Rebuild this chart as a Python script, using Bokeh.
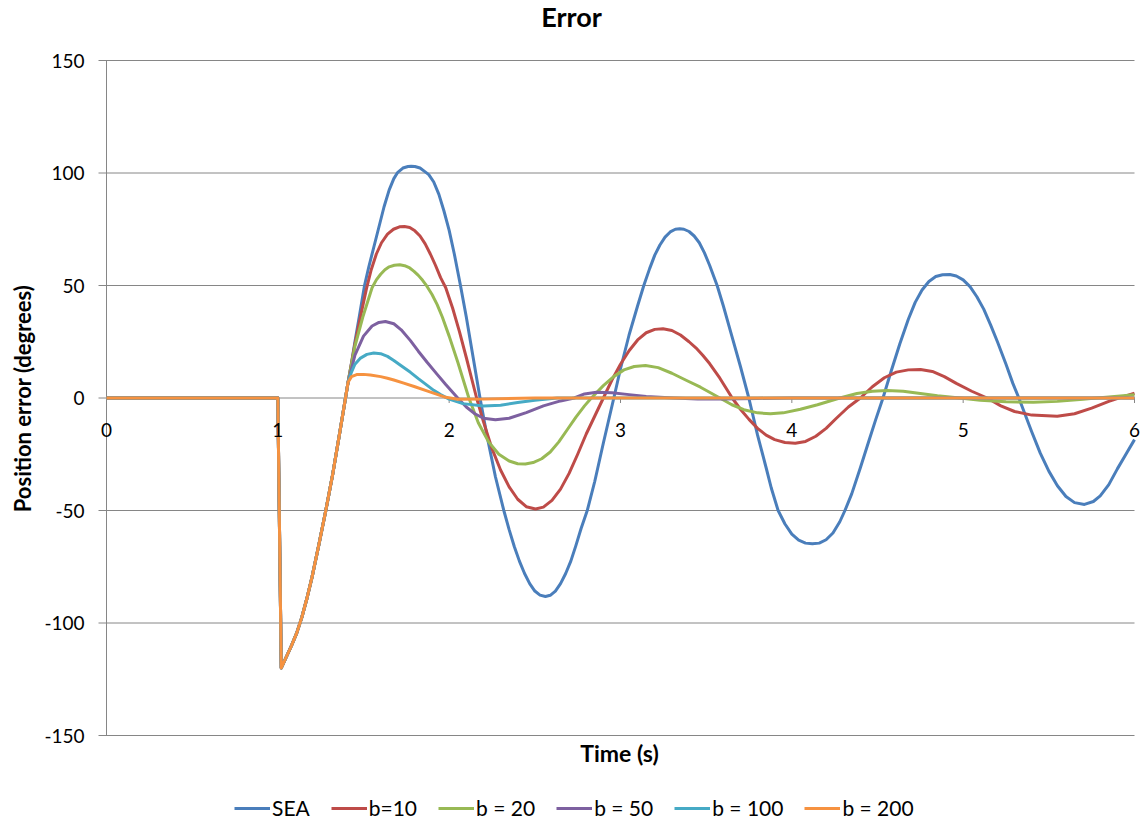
import math
from bokeh.plotting import figure
from bokeh.models import Range1d, Legend, LegendItem, Label
from bokeh.core.properties import value
from bokeh.embed import file_html
from bokeh.resources import INLINE

# ---------------- data ----------------
t_common = [0.0, 1.0, 1.02, 1.05, 1.08, 1.11, 1.14, 1.17, 1.2, 1.24, 1.28, 1.32, 1.36, 1.395, 1.41]
v_common = [0.0, 0.0, -120, -115, -110, -104.5, -97.5, -89, -79.5, -65, -50, -34, -16, 0.0, 7]

t_sea = [1.43, 1.45, 1.475, 1.506, 1.53, 1.56, 1.59, 1.62, 1.65, 1.677, 1.7, 1.73, 1.76, 1.778, 1.8,
         1.83, 1.86, 1.881, 1.91, 1.94, 1.97, 2.0, 2.03, 2.066, 2.1, 2.14, 2.18, 2.22, 2.27, 2.319,
         2.35, 2.38, 2.41, 2.44, 2.47, 2.5, 2.53, 2.562, 2.59, 2.62, 2.65, 2.68, 2.71, 2.74, 2.77,
         2.806, 2.85, 2.9, 2.961, 3.0, 3.05, 3.1, 3.136, 3.17, 3.2, 3.23, 3.26, 3.29, 3.32, 3.346,
         3.37, 3.4, 3.43, 3.46, 3.49, 3.52, 3.564, 3.6, 3.65, 3.7, 3.749, 3.8, 3.85, 3.88, 3.92,
         3.96, 4.0, 4.04, 4.08, 4.12, 4.16, 4.2, 4.24, 4.28, 4.31, 4.35, 4.4, 4.45, 4.49, 4.532,
         4.58, 4.63, 4.68, 4.72, 4.76, 4.8, 4.84, 4.88, 4.922, 4.96, 5.0, 5.04, 5.08, 5.12, 5.16,
         5.2, 5.25, 5.29, 5.325, 5.36, 5.4, 5.45, 5.5, 5.55, 5.6, 5.65, 5.708, 5.76, 5.8, 5.85,
         5.9, 5.95, 6.0]
v_sea = [15.5, 25, 36, 50, 58, 67, 76, 85, 92.5, 97.5, 100.3, 102.2, 102.9, 103, 102.9,
         102.2, 100.5, 99.3, 96, 90.5, 83, 74.5, 64, 50, 36, 18, 0, -16.5, -35, -50,
         -58.5, -66, -72.5, -78, -82.5, -85.8, -87.6, -88.2, -87.7, -85.8, -82.5, -78, -72.5, -65.5, -58,
         -50, -37, -20, 0, 13, 28, 41, 50, 57.5, 63.5, 68, 71.5, 73.8, 75, 75.2,
         75, 74, 72, 69, 64.5, 59, 50, 41, 27.5, 14, 0, -16.5, -31, -40, -50,
         -56, -60.5, -63.2, -64.5, -64.8, -64.5, -63, -60, -55, -50, -42.5, -31, -19, -9.5, 0,
         12, 24, 35, 42.5, 48, 51.8, 54, 54.8, 54.9, 54.2, 52.5, 49.5, 45, 39.5, 32.5,
         25, 15, 6.5, 0, -7, -15, -24.5, -32.5, -39, -43.8, -46.5, -47.3, -46, -43.5, -38.5,
         -31.5, -25, -18.5]

t_b10 = [1.45, 1.482, 1.517, 1.545, 1.575, 1.605, 1.64, 1.675, 1.71, 1.739, 1.77, 1.8, 1.83, 1.86, 1.89,
         1.92, 1.95, 1.98, 2.02, 2.06, 2.1, 2.13, 2.16, 2.2, 2.25, 2.3, 2.35, 2.4, 2.45, 2.504,
         2.55, 2.6, 2.65, 2.7, 2.75, 2.8, 2.85, 2.9, 2.95, 3.0, 3.05, 3.1, 3.15, 3.2, 3.248,
         3.3, 3.35, 3.4, 3.44, 3.48, 3.52, 3.58, 3.652, 3.7, 3.75, 3.8, 3.85, 3.9, 3.96, 4.02,
         4.08, 4.14, 4.2, 4.26, 4.33, 4.4, 4.47, 4.54, 4.61, 4.68, 4.751, 4.82, 4.89, 4.96, 5.05,
         5.14, 5.22, 5.3, 5.4, 5.549, 5.65, 5.75, 5.85, 5.93, 6.0]
v_b10 = [24, 36, 48.5, 57, 64, 69, 72.8, 75, 76.1, 76.2, 75.8, 74.3, 72, 68.5, 64,
         59, 53.5, 49, 40, 29.5, 18, 9, 0, -10.5, -22.5, -32, -39.5, -45, -48.3, -49.3,
         -48.5, -45.5, -40.5, -33.5, -25, -16, -8, 0, 8, 15, 21, 25.8, 29, 30.5, 30.8,
         30, 28, 25, 22.3, 19, 15.3, 8.8, 0, -5, -9.5, -13.5, -16.5, -18.5, -19.8, -20.1,
         -19.3, -17, -13.5, -9, -4, 0, 5, 9, 11.5, 12.5, 12.7, 11.8, 9.5, 6.5, 3,
         0, -3.5, -6, -7.6, -8.1, -7, -4.5, -1.5, 0.5, 2.1]

t_b20 = [1.45, 1.496, 1.55, 1.575, 1.6, 1.625, 1.65, 1.68, 1.712, 1.74, 1.77, 1.795, 1.82, 1.845, 1.87,
         1.9, 1.93, 1.96, 2.0, 2.05, 2.115, 2.17, 2.23, 2.29, 2.35, 2.4, 2.445, 2.49, 2.54, 2.59,
         2.64, 2.69, 2.74, 2.79, 2.83, 2.9, 2.96, 3.02, 3.08, 3.146, 3.22, 3.3, 3.38, 3.467, 3.58,
         3.65, 3.72, 3.8, 3.875, 3.95, 4.05, 4.15, 4.28, 4.38, 4.47, 4.556, 4.65, 4.75, 4.85, 4.98,
         5.1, 5.25, 5.41, 5.55, 5.7, 5.85, 6.0]
v_b20 = [23, 36, 49, 52.5, 55, 57, 58.3, 59, 59.2, 58.8, 57.8, 56.3, 54.5, 52.3, 49.7,
         46, 41.5, 36, 27.5, 16, 0, -11, -19.5, -25, -28, -29.2, -29.3, -28.7, -27, -24,
         -19.5, -14, -8.5, -3.5, 0, 5.5, 9.5, 12.5, 14, 14.4, 13.5, 11, 8, 4.8, 0,
         -3, -5.2, -6.6, -7, -6.6, -5, -3, 0, 2, 3, 3.3, 3, 2, 1, 0,
         -1, -1.7, -1.9, -1.5, -0.6, 0.5, 1.5]

t_b50 = [1.45, 1.5, 1.55, 1.59, 1.628, 1.677, 1.72, 1.774, 1.82, 1.87, 1.93, 1.98, 2.05, 2.1, 2.15,
         2.2, 2.27, 2.35, 2.45, 2.55, 2.65, 2.73, 2.79, 2.86, 2.95, 3.05, 3.15, 3.31, 3.45, 3.6,
         3.8, 4.0, 6.0]
v_b50 = [19, 27.5, 32, 33.6, 34, 33, 30.3, 25.5, 20.8, 16, 10.5, 6, 0, -4, -7,
         -9, -9.7, -9, -6.5, -3.5, -1.3, 0, 1.8, 2.6, 2.3, 1.5, 0.7, 0, -0.4, -0.5,
         -0.2, 0, 0]

t_b100 = [1.43, 1.45, 1.48, 1.52, 1.56, 1.6, 1.64, 1.677, 1.72, 1.774, 1.82, 1.87, 1.91, 1.95, 2.0,
          2.08, 2.2, 2.3, 2.4, 2.5, 2.63, 6.0]
v_b100 = [11.5, 15, 17.6, 19.4, 20, 19.7, 18.5, 16.7, 14.3, 11.4, 8.6, 5.7, 3.4, 1.5, -0.5,
          -2.5, -3.6, -3.2, -2, -1, 0, 0]

t_b200 = [1.43, 1.46, 1.5, 1.54, 1.6, 1.64, 1.677, 1.735, 1.8, 1.87, 1.93, 1.98, 2.05, 2.2, 2.5,
          6.0]
v_b200 = [9.5, 10.4, 10.5, 10.2, 9.5, 8.8, 8.0, 6.6, 5.0, 3.2, 1.6, 0.3, -0.6, -0.5, 0,
          0]

series_names = ["SEA", "b=10", "b = 20", "b = 50", "b = 100", "b = 200"]
series_t = [t_sea, t_b10, t_b20, t_b50, t_b100, t_b200]
series_v = [v_sea, v_b10, v_b20, v_b50, v_b100, v_b200]
colors = ["#4A7EBB", "#BE4B48", "#98B954", "#7D60A0", "#46AAC5", "#F69240"]

x_ticks = [0, 1, 2, 3, 4, 5, 6]
x_tick_labels = ["0", "1", "2", "3", "4", "5", "6"]
y_ticks = [-150, -100, -50, 0, 50, 100, 150]
y_tick_labels = ["-150", "-100", "-50", "0", "50", "100", "150"]

title_text = "Error"
x_title = "Time (s)"
y_title = "Position error (degrees)"

# ---------------- layout (pixel geometry of the page) ----------------
FONT = "Lato"
GRID = "#868686"
W, H = 1143, 822
X0_PX, X6_PX = 106, 1134       # x = 0 and x = 6
YT_PX, YB_PX = 60, 735         # y = 150 and y = -150
px_x = (X6_PX - X0_PX) / (x_ticks[-1] - x_ticks[0])
px_y = (YB_PX - YT_PX) / (y_ticks[-1] - y_ticks[0])


def dx(px):
    return x_ticks[0] + (px - X0_PX) / px_x


def dy(py):
    return y_ticks[-1] - (py - YT_PX) / px_y


p = figure(width=W, height=H, output_backend="svg", toolbar_location=None,
           x_range=Range1d(dx(0), dx(W)), y_range=Range1d(dy(H), dy(0)),
           x_axis_location=None, y_axis_location=None,
           min_border_left=0, min_border_right=0, min_border_top=0, min_border_bottom=0)
p.outline_line_color = None
p.background_fill_color = "white"
p.border_fill_color = "white"
p.xgrid.grid_line_color = None
p.ygrid.grid_line_color = None

n_y = len(y_ticks)
# horizontal grid lines with their outward tick, and the vertical axis line
p.segment(x0=[dx(X0_PX - 8)] * n_y, x1=[x_ticks[-1]] * n_y, y0=y_ticks, y1=y_ticks,
          line_color=GRID, line_width=1)
p.segment(x0=[x_ticks[0]], x1=[x_ticks[0]], y0=[y_ticks[0]], y1=[y_ticks[-1]],
          line_color=GRID, line_width=1)
# x ticks on the zero line
p.ray(x=x_ticks, y=[0] * len(x_ticks), length=5, length_units="screen", angle=-math.pi / 2,
      line_color=GRID, line_width=1)

# series
items = []
for name, tt, vv, c in zip(series_names, series_t, series_v, colors):
    r = p.line(t_common + tt, v_common + vv, line_color=c, line_width=3, line_join="round")
    items.append(LegendItem(label=name, renderers=[r]))

# tick labels
p.text(x=x_ticks, y=[0] * len(x_ticks), text=x_tick_labels, text_align="center",
       text_baseline="middle", y_offset=32, text_font=value(FONT), text_font_size="19px",
       text_color="black")
p.text(x=[x_ticks[0]] * n_y, y=y_ticks, text=y_tick_labels, text_align="right",
       text_baseline="middle", x_offset=-22, text_font=value(FONT), text_font_size="19px",
       text_color="black")

# titles
p.add_layout(Label(x=dx(571), y=dy(16), text=title_text, text_align="center",
                   text_baseline="middle", text_font=FONT, text_font_style="bold",
                   text_font_size="27px", text_color="black"))
p.add_layout(Label(x=dx(619), y=dy(752), text=x_title, text_align="center",
                   text_baseline="middle", text_font=FONT, text_font_style="bold",
                   text_font_size="23px", text_color="black"))
p.add_layout(Label(x=dx(22), y=dy(398), text=y_title, text_align="center",
                   text_baseline="middle", angle=math.pi / 2, text_font=FONT,
                   text_font_style="bold", text_font_size="22px", text_color="black"))

legend = Legend(items=items, orientation="horizontal", location=(234, 2),
                glyph_width=36, glyph_height=24, label_standoff=2, spacing=21,
                padding=0, margin=0, border_line_color=None, background_fill_alpha=0,
                label_text_font=FONT, label_text_font_size="21px", label_text_color="black")
p.add_layout(legend, "center")

open("out.html", "w").write(file_html(p, INLINE))
